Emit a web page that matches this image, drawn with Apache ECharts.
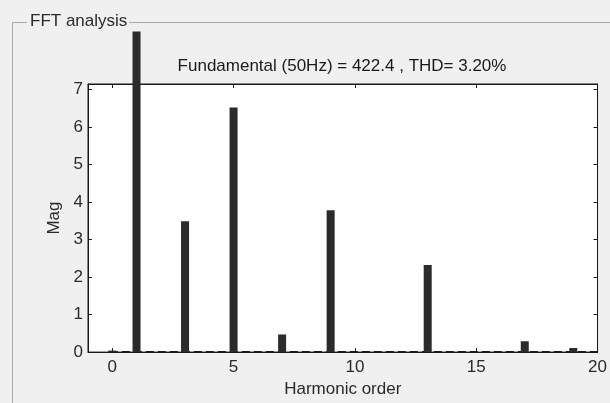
<!DOCTYPE html>
<html>
<head>
<meta charset="utf-8">
<script src="https://cdn.jsdelivr.net/npm/echarts@6/dist/echarts.min.js"></script>
<style>
html,body{margin:0;padding:0;background:#f0f0f0;}
#c{width:610px;height:403px;}
</style>
</head>
<body>
<div id="c"></div>
<script>
// Harmonic orders and magnitudes (% of fundamental, as visible in the picture)
const harmonics = [0, 1, 3, 5, 7, 9, 13, 17, 19];
const magnitudes = [0.04, 8.55, 3.49, 6.52, 0.47, 3.78, 2.32, 0.29, 0.11];
const xTicks = [0, 5, 10, 15, 20];
const yTicks = [0, 1, 2, 3, 4, 5, 6, 7];
const baselineX = [-0.1, 20];
const titleText = 'Fundamental (50Hz) = 422.4 , THD= 3.20%';
const panelTitle = 'FFT analysis';

const FONT = '"Liberation Sans", Arial, sans-serif';
const FS = 17;
const chart = echarts.init(document.getElementById('c'), null, {renderer: 'canvas'});

const barData = harmonics.map((h, i) => [h, magnitudes[i]]);
const baseData = baselineX.map(x => [x, 0]);

const axisCommon = {
  axisLine: {show: true, onZero: false, lineStyle: {color: '#1a1a1a', width: 1}},
  splitLine: {show: false}
};

chart.setOption({
  backgroundColor: '#f0f0f0',
  animation: false,
  grid: {left: 88, top: 84, right: 12, bottom: 47, show: true, backgroundColor: '#ffffff', borderColor: '#1a1a1a', borderWidth: 1},
  xAxis: [{
    type: 'value', min: -1, max: 20, position: 'bottom',
    ...axisCommon,
    axisTick: {show: true, inside: true, length: 4, customValues: xTicks, lineStyle: {color: '#1a1a1a'}},
    axisLabel: {show: true, customValues: xTicks, margin: 7, fontFamily: FONT, fontSize: FS, color: '#2a2a2a'},
    name: 'Harmonic order', nameLocation: 'middle', nameGap: 28,
    nameTextStyle: {fontFamily: FONT, fontSize: FS, color: '#2a2a2a'}
  }, {
    type: 'value', min: -1, max: 20, position: 'top',
    ...axisCommon,
    axisTick: {show: true, inside: true, length: 4, customValues: xTicks, lineStyle: {color: '#1a1a1a'}},
    axisLabel: {show: false}
  }],
  yAxis: [{
    type: 'value', min: 0, max: 7.15, position: 'left',
    ...axisCommon,
    axisTick: {show: true, inside: true, length: 4, customValues: yTicks, lineStyle: {color: '#1a1a1a'}},
    axisLabel: {show: true, customValues: yTicks, margin: 5, fontFamily: FONT, fontSize: FS, color: '#2a2a2a'},
    name: 'Mag', nameLocation: 'middle', nameGap: 25, nameRotate: 90,
    nameTextStyle: {fontFamily: FONT, fontSize: FS, color: '#2a2a2a'}
  }, {
    type: 'value', min: 0, max: 7.15, position: 'right',
    ...axisCommon,
    axisTick: {show: true, inside: true, length: 4, customValues: yTicks, lineStyle: {color: '#1a1a1a'}},
    axisLabel: {show: false}
  }],
  series: [{
    type: 'line', data: baseData, symbol: 'none', xAxisIndex: 0, yAxisIndex: 0,
    lineStyle: {color: '#1a1a1a', width: 2, type: [8, 4]}, z: 2, silent: true
  }, {
    type: 'bar', data: barData, barWidth: 8, clip: false, xAxisIndex: 0, yAxisIndex: 0,
    itemStyle: {color: '#2b2b2b'}, z: 3, silent: true
  }],
  graphic: [
    {type: 'polyline', shape: {points: [[12.5, 403], [12.5, 22.5], [27, 22.5]]}, style: {stroke: '#a8a8a8', lineWidth: 1, fill: null}},
    {type: 'line', shape: {x1: 129, y1: 22.5, x2: 610, y2: 22.5}, style: {stroke: '#a8a8a8', lineWidth: 1}},
    {type: 'text', x: 30, y: 21, style: {text: panelTitle, font: FS + 'px ' + FONT, fill: '#2a2a2a', verticalAlign: 'middle'}},
    {type: 'text', x: 342, y: 66, style: {text: titleText, font: FS + 'px ' + FONT, fill: '#1a1a1a', align: 'center', verticalAlign: 'middle'}}
  ]
});
</script>
</body>
</html>
